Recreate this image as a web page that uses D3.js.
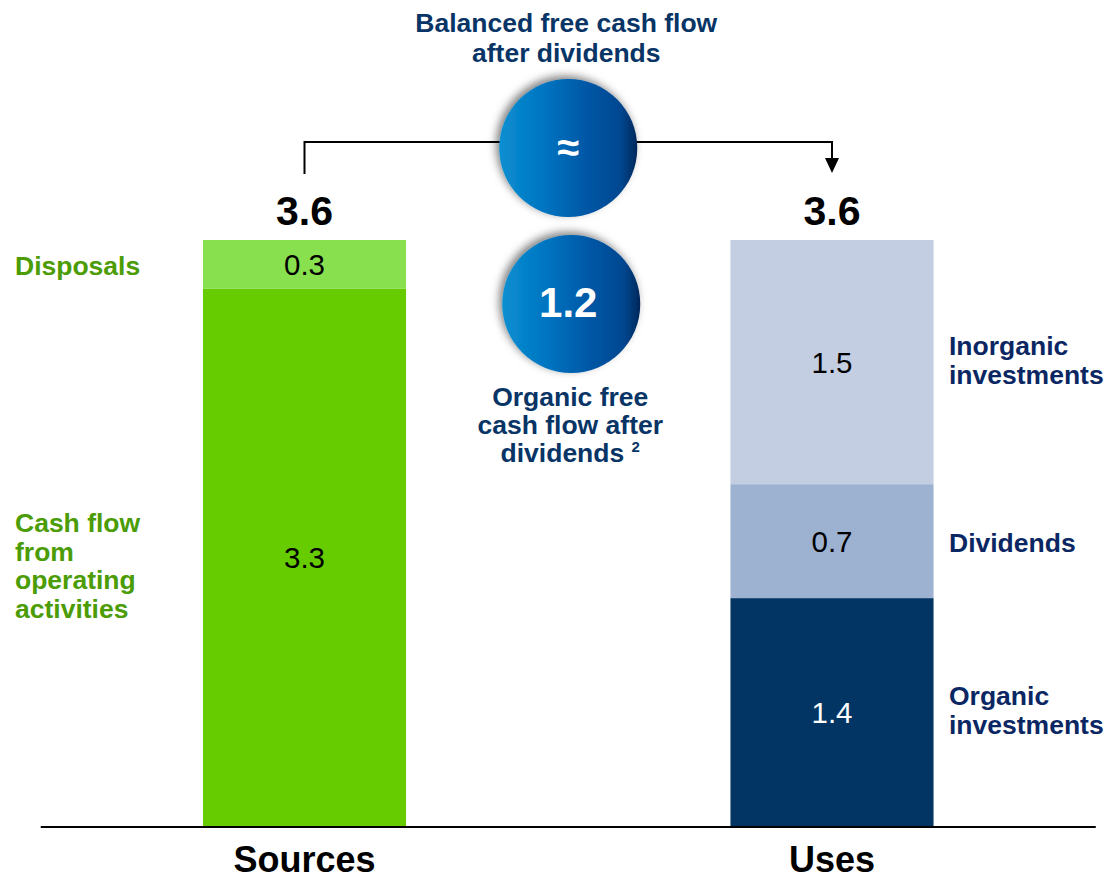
<!DOCTYPE html>
<html>
<head>
<meta charset="utf-8">
<script src="https://cdn.jsdelivr.net/npm/d3@7"></script>
<style>
  html, body { margin: 0; padding: 0; background: #ffffff; }
  svg { display: block; font-family: "Liberation Sans", Arial, sans-serif; }
</style>
</head>
<body>
<svg id="chart" width="1108" height="879"></svg>
<script>
// ---------------- data ----------------
const categories = ["Sources", "Uses"];

const sourceLabels = ["Cash flow\nfrom\noperating\nactivities", "Disposals"];
const sourceValues = [3.3, 0.3];

const useLabels = ["Organic\ninvestments", "Dividends", "Inorganic\ninvestments"];
const useValues = [1.4, 0.7, 1.5];

const titleLines = ["Balanced free cash flow", "after dividends"];
const balanceSymbol = "\u2248";
const organicFcfValue = 1.2;
const organicFcfLines = ["Organic free", "cash flow after", "dividends"];
const organicFcfNote = "2";

// ---------------- styles ----------------
const sourceColors = ["#66cc00", "#88e04f"];
const useColors = ["#023564", "#9db1d0", "#c3cee2"];
const useTextColors = ["#ffffff", "#000000", "#000000"];
const sourceTextColors = ["#000000", "#000000"];
const sourceLabelColor = "#4b9c05";
const useLabelColor = "#0b2763";
const titleColor = "#083466";
const labelSize = 26.5;

// ---------------- setup ----------------
const svg = d3.select("#chart");
const fmt = d3.format(".1f");

const stacks = [
  { cat: categories[0], labels: sourceLabels, values: sourceValues, colors: sourceColors, textColors: sourceTextColors, labelColor: sourceLabelColor, side: "left" },
  { cat: categories[1], labels: useLabels, values: useValues, colors: useColors, textColors: useTextColors, labelColor: useLabelColor, side: "right" }
];
stacks.forEach(s => {
  let acc = 0;
  s.segs = s.values.map((v, i) => {
    const seg = { y0: acc, y1: acc + v, v, label: s.labels[i], color: s.colors[i], textColor: s.textColors[i] };
    acc += v;
    return seg;
  });
  s.total = acc;
});

const maxTotal = d3.max(stacks, s => s.total);

const x = d3.scaleBand()
  .domain(categories)
  .range([40.75, 1095.75])
  .paddingInner(0.615)
  .paddingOuter(0.3075);

const y = d3.scaleLinear()
  .domain([0, maxTotal])
  .range([826, 240]);

// defs: gradient + shadow
const defs = svg.append("defs");
const grad = defs.append("linearGradient").attr("id", "ballGrad")
  .attr("x1", "0%").attr("x2", "100%").attr("y1", "0%").attr("y2", "0%");
[["0%", "#0a8fd2"], ["35%", "#0072bf"], ["65%", "#0056a4"], ["88%", "#004790"], ["100%", "#00275a"]]
  .forEach(([o, c]) => grad.append("stop").attr("offset", o).attr("stop-color", c));

const flt = defs.append("filter").attr("id", "shadow")
  .attr("x", "-30%").attr("y", "-30%").attr("width", "160%").attr("height", "160%");
flt.append("feDropShadow").attr("dx", -3).attr("dy", -3).attr("stdDeviation", 4.5)
  .attr("flood-color", "#000").attr("flood-opacity", 0.5);

// ---------------- bars ----------------
stacks.forEach(s => {
  const g = svg.append("g");
  g.selectAll("rect").data(s.segs).join("rect")
    .attr("x", x(s.cat))
    .attr("width", x.bandwidth())
    .attr("y", d => y(d.y1))
    .attr("height", d => y(d.y0) - y(d.y1))
    .attr("fill", d => d.color);

  g.selectAll("text.val").data(s.segs).join("text")
    .attr("class", "val")
    .attr("x", x(s.cat) + x.bandwidth() / 2)
    .attr("y", d => (y(d.y0) + y(d.y1)) / 2 + 10.5)
    .attr("text-anchor", "middle")
    .attr("font-size", 29.5)
    .attr("fill", d => d.textColor)
    .text(d => fmt(d.v));

  // side labels
  const lh = 28.5;
  s.segs.forEach(d => {
    const lines = d.label.split("\n");
    const mid = (y(d.y0) + y(d.y1)) / 2 + 9.5;
    const nudge = lines.length > 2 ? 8 : (lines.length === 2 ? -2 : 1.5);
    const first = mid - (lines.length - 1) * lh / 2 + nudge;
    const lx = s.side === "left" ? 15 : 949;
    const t = svg.append("text")
      .attr("x", lx)
      .attr("font-size", labelSize)
      .attr("font-weight", "bold")
      .attr("fill", s.labelColor);
    lines.forEach((ln, i) => {
      t.append("tspan").attr("x", lx).attr("y", first + i * lh).text(ln);
    });
  });

  // total label
  svg.append("text")
    .attr("x", x(s.cat) + x.bandwidth() / 2)
    .attr("y", y(s.total) - 15)
    .attr("text-anchor", "middle")
    .attr("font-size", 41)
    .attr("font-weight", "bold")
    .attr("fill", "#000")
    .text(fmt(s.total));

  // category label
  svg.append("text")
    .attr("x", x(s.cat) + x.bandwidth() / 2)
    .attr("y", 872)
    .attr("text-anchor", "middle")
    .attr("font-size", 36)
    .attr("font-weight", "bold")
    .attr("fill", "#000")
    .text(s.cat);
});

// baseline
svg.append("line")
  .attr("x1", x.range()[0]).attr("x2", x.range()[1])
  .attr("y1", y(0) + 1).attr("y2", y(0) + 1)
  .attr("stroke", "#000").attr("stroke-width", 2.2);

// ---------------- bracket ----------------
const cx0 = x(categories[0]) + x.bandwidth() / 2;
const cx1 = x(categories[1]) + x.bandwidth() / 2;
const bracketY = 142;
svg.append("path")
  .attr("d", `M${cx0},174 V${bracketY} H${cx1} V160`)
  .attr("fill", "none").attr("stroke", "#000").attr("stroke-width", 2);
svg.append("path")
  .attr("d", `M${cx1 - 7},158 L${cx1 + 7},158 L${cx1},173 Z`)
  .attr("fill", "#000");

// ---------------- title ----------------
const midX = (cx0 + cx1) / 2;
svg.append("text")
  .attr("text-anchor", "middle")
  .attr("font-size", labelSize).attr("font-weight", "bold").attr("fill", titleColor)
  .selectAll("tspan").data(titleLines).join("tspan")
  .attr("x", midX - 2).attr("y", (d, i) => 32 + i * 29.5).text(d => d);

// ---------------- circles ----------------
const R = 69;
svg.append("circle").attr("cx", midX).attr("cy", bracketY + 6).attr("r", R)
  .attr("fill", "url(#ballGrad)").attr("filter", "url(#shadow)");
svg.append("text")
  .attr("x", midX).attr("y", bracketY + 6 + 13)
  .attr("text-anchor", "middle")
  .attr("font-size", 40).attr("font-weight", "bold").attr("fill", "#fff")
  .text(balanceSymbol);

const c2x = midX + 3, c2y = 304;
svg.append("circle").attr("cx", c2x).attr("cy", c2y).attr("r", R)
  .attr("fill", "url(#ballGrad)").attr("filter", "url(#shadow)");
svg.append("text")
  .attr("x", c2x - 3).attr("y", c2y + 13)
  .attr("text-anchor", "middle")
  .attr("font-size", 42).attr("font-weight", "bold").attr("fill", "#fff")
  .text(fmt(organicFcfValue));

const sub = svg.append("text")
  .attr("text-anchor", "middle")
  .attr("font-size", labelSize).attr("font-weight", "bold").attr("fill", titleColor);
organicFcfLines.forEach((ln, i) => {
  const ts = sub.append("tspan").attr("x", c2x - 1).attr("y", 406 + i * 28).text(ln);
  if (i === organicFcfLines.length - 1) {
    ts.text(ln + " ");
    sub.append("tspan").attr("font-size", 15).attr("dy", -10).text(organicFcfNote);
  }
});
</script>
</body>
</html>
